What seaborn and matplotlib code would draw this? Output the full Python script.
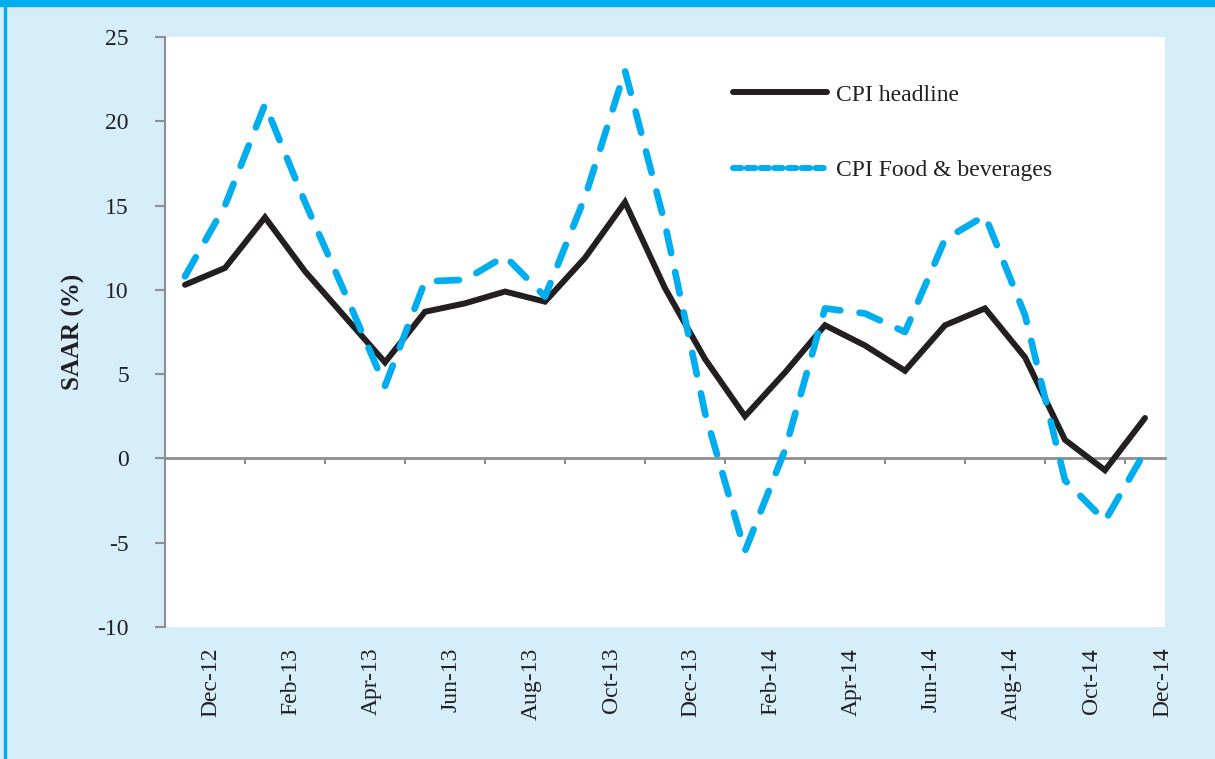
import matplotlib
matplotlib.use("Agg")
import matplotlib.pyplot as plt
from matplotlib.lines import Line2D
from matplotlib.patches import Rectangle
import seaborn as sns
import numpy as np

# monthly SAAR readings, Dec-12 .. Dec-14
months = ["Dec-12", "Jan-13", "Feb-13", "Mar-13", "Apr-13", "May-13", "Jun-13",
          "Jul-13", "Aug-13", "Sep-13", "Oct-13", "Nov-13", "Dec-13", "Jan-14",
          "Feb-14", "Mar-14", "Apr-14", "May-14", "Jun-14", "Jul-14", "Aug-14",
          "Sep-14", "Oct-14", "Nov-14", "Dec-14"]
headline = [10.3, 11.3, 14.3, 11.1, 8.4, 5.7, 8.7, 9.2, 9.9, 9.3, 11.9, 15.2,
            10.1, 5.9, 2.5, 5.1, 7.9, 6.7, 5.2, 7.9, 8.9, 6.0, 1.1, -0.7, 2.4]
food = [10.8, 15.0, 21.0, 15.2, 9.8, 4.3, 10.5, 10.6, 12.0, 9.6, 15.5, 23.0,
        13.9, 2.7, -5.5, 0.5, 8.9, 8.6, 7.5, 13.0, 14.4, 8.5, -1.3, -3.7, 0.4]
series_names = ["CPI headline", "CPI Food & beverages"]
y_ticks = [-10, -5, 0, 5, 10, 15, 20, 25]

BG = "#d6edfa"
BLUE = "#00aeef"
INK = "#231f20"
GREY = "#8f8f91"

sns.set_style("ticks")
plt.rcParams["font.family"] = ["Liberation Serif", "DejaVu Serif"]

fig = plt.figure(figsize=(12.15, 7.59), dpi=100)
fig.patch.set_facecolor(BG)
# frame: thick bar on top, thin rule on the left
fig.patches.append(Rectangle((0, 1 - 6 / 759), 1, 6 / 759, transform=fig.transFigure,
                             color=BLUE, zorder=0))
fig.patches.append(Rectangle((4 / 1215, 0), 2 / 1215, 1, transform=fig.transFigure,
                             color=BLUE, zorder=0))

ax = fig.add_axes([165 / 1215, 1 - 627 / 759, 1000 / 1215, 590 / 759])
ax.set_facecolor("white")

x = np.arange(len(months))
sns.lineplot(x=x, y=headline, ax=ax, color=INK, lw=4.3, solid_capstyle="round",
             solid_joinstyle="miter", zorder=3)
sns.lineplot(x=x, y=food, ax=ax, color=BLUE, lw=4.8, zorder=4)
food_line = ax.lines[-1]
food_line.set_dashes((3.3, 2.9))
food_line.set_dash_capstyle("round")

n = len(months)
ax.set_xlim(-0.5, n - 0.5)
ax.set_ylim(-10, 25)
ax.set_yticks(y_ticks)
ax.set_yticklabels([str(v) for v in y_ticks], fontsize=17, color=INK)
ax.tick_params(axis="y", direction="out", length=7, width=1.5, color=GREY, pad=19)

# category axis sits on zero, tick marks between every second month
for side in ["top", "right"]:
    ax.spines[side].set_visible(False)
ax.spines["left"].set_color(GREY)
ax.spines["left"].set_linewidth(1.5)
ax.spines["bottom"].set_position(("data", 0))
ax.spines["bottom"].set_color(GREY)
ax.spines["bottom"].set_linewidth(2)
ax.set_xticks(x[1:-1:2] + 0.5)
ax.tick_params(axis="x", direction="out", length=4.5, width=1.5, color=GREY,
               labelbottom=False)

# month labels hang under the plot area, every second month
lab = ax.secondary_xaxis("bottom")
lab.spines["bottom"].set_visible(False)
lab.set_xticks(np.minimum(x[::2] + 0.65, n - 0.55), labels=months[::2])
lab.tick_params(axis="x", length=0, pad=15, rotation=90, labelsize=17, labelcolor=INK)

ax.set_xlabel("")
ax.set_ylabel("SAAR (%)", fontsize=18, fontweight="bold", color=INK, labelpad=9)

handles = [Line2D([], [], color=INK, lw=4.3, solid_capstyle="round"),
           Line2D([], [], color=BLUE, lw=4.3, dashes=(1.4, 0.9), dash_capstyle="round")]
ax.legend(handles, series_names, loc="upper left", bbox_to_anchor=(0.568, 0.92),
          frameon=False, fontsize=17, handlelength=4, handletextpad=0.35,
          labelspacing=2.28, borderpad=0, borderaxespad=0, labelcolor=INK)

fig.savefig("out.png", dpi=100, facecolor=BG)
